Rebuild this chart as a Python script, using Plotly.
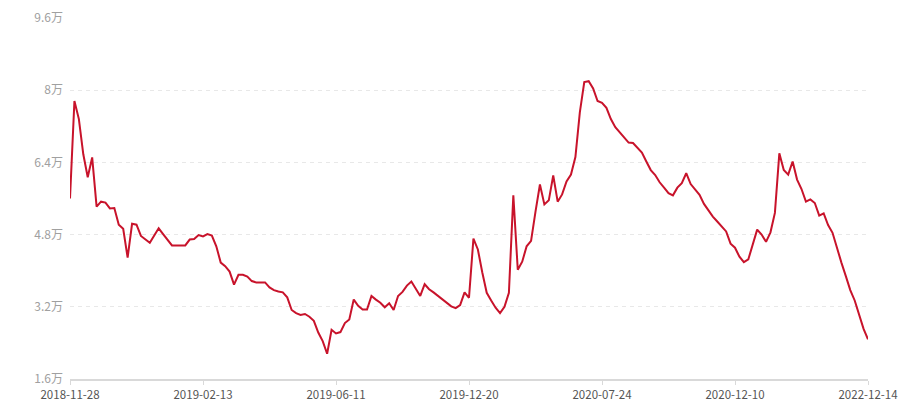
import plotly.graph_objects as go

values = [
    5.60, 7.76, 7.36, 6.58, 6.07, 6.51, 5.42, 5.53, 5.51, 5.38,
    5.39, 5.02, 4.93, 4.29, 5.04, 5.02, 4.77, 4.69, 4.62, 4.78,
    4.94, 4.81, 4.68, 4.56, 4.56, 4.56, 4.56, 4.69, 4.70, 4.79,
    4.76, 4.81, 4.78, 4.54, 4.18, 4.10, 3.98, 3.69, 3.91, 3.91,
    3.87, 3.77, 3.74, 3.74, 3.74, 3.63, 3.57, 3.54, 3.52, 3.41,
    3.13, 3.06, 3.02, 3.04, 2.98, 2.89, 2.63, 2.44, 2.16, 2.69,
    2.61, 2.64, 2.84, 2.92, 3.36, 3.22, 3.14, 3.14, 3.44, 3.36,
    3.29, 3.19, 3.28, 3.13, 3.44, 3.53, 3.67, 3.76, 3.59, 3.44,
    3.70, 3.59, 3.52, 3.44, 3.37, 3.30, 3.21, 3.17, 3.24, 3.52,
    3.40, 4.71, 4.47, 3.96, 3.51, 3.34, 3.18, 3.06, 3.20, 3.51,
    5.67, 4.02, 4.20, 4.54, 4.66, 5.31, 5.91, 5.47, 5.56, 6.11,
    5.53, 5.69, 5.98, 6.13, 6.52, 7.51, 8.18, 8.20, 8.04, 7.76,
    7.72, 7.61, 7.36, 7.18, 7.06, 6.96, 6.84, 6.83, 6.73, 6.62,
    6.42, 6.23, 6.12, 5.96, 5.84, 5.72, 5.67, 5.84, 5.94, 6.16,
    5.92, 5.80, 5.68, 5.48, 5.33, 5.20, 5.09, 4.98, 4.87, 4.60,
    4.51, 4.31, 4.19, 4.25, 4.58, 4.91, 4.80, 4.64, 4.85, 5.28,
    6.60, 6.23, 6.13, 6.42, 6.02, 5.81, 5.53, 5.58, 5.50, 5.22,
    5.27, 5.01, 4.84, 4.48, 4.18, 3.88, 3.57, 3.34, 3.03, 2.71,
    2.48,
]
x_index = list(range(len(values)))

tick_positions = [0, 30, 60, 90, 120, 150, 180]
tick_labels = ["2018-11-28", "2019-02-13", "2019-06-11", "2019-12-20",
               "2020-07-24", "2020-12-10", "2022-12-14"]

y_ticks = [1.6, 3.2, 4.8, 6.4, 8.0, 9.6]
y_tick_labels = ["1.6万", "3.2万", "4.8万", "6.4万", "8万", "9.6万"]

font_family = "Noto Sans CJK SC, Noto Sans, sans-serif"

fig = go.Figure()
fig.add_trace(go.Scatter(
    x=x_index, y=values, mode="lines",
    line=dict(color="#c8132b", width=2),
    hoverinfo="skip",
))

fig.update_layout(
    width=900, height=400,
    margin=dict(l=70, r=32, t=18, b=21),
    paper_bgcolor="white", plot_bgcolor="white",
    showlegend=False,
    font=dict(family=font_family, size=12),
)
fig.update_xaxes(
    range=[0, len(values) - 1],
    automargin=False,
    tickvals=tick_positions, ticktext=tick_labels,
    showgrid=False, zeroline=False,
    showline=True, linecolor="#d9d9d9", linewidth=2,
    ticks="outside", ticklen=4, tickcolor="#d9d9d9", tickwidth=1,
    ticklabelstandoff=0,
    tickfont=dict(color="#555555", size=11.5, family=font_family),
)
fig.update_yaxes(
    range=[1.6, 9.6],
    automargin=False,
    tickvals=y_ticks, ticktext=y_tick_labels,
    showgrid=True, gridcolor="#e8e8e8", griddash="4px,4px", gridwidth=1,
    zeroline=False, showline=False, ticks="",
    ticklabelstandoff=6,
    tickfont=dict(color="#a0a0a0", size=12, family=font_family),
)

fig.write_html(
    "out.html",
    config={"displayModeBar": False},
    post_script="document.body.style.margin='0';document.body.style.overflow='hidden';",
)
